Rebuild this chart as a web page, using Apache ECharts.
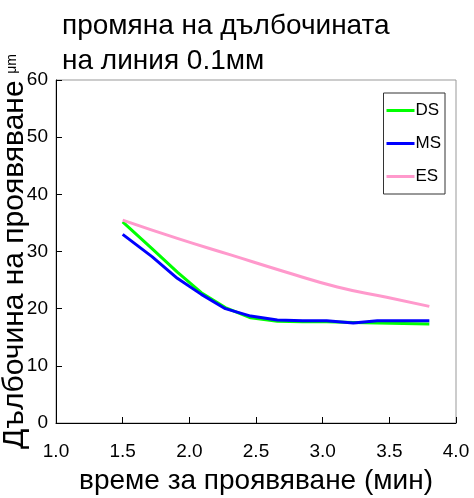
<!DOCTYPE html>
<html><head><meta charset="utf-8">
<script src="https://cdn.jsdelivr.net/npm/echarts@6/dist/echarts.min.js"></script>
<style>html,body{margin:0;padding:0;background:#fff}#c{width:474px;height:498px}</style>
</head><body><div id="c"></div>
<script>
const titleText = 'промяна на дълбочината\nна линия 0.1мм';
const xName = 'време за проявяване (мин)';
const yName = 'Дълбочина на проявяване';
const yUnit = 'μm';
const seriesNames = ['DS', 'MS', 'ES'];
const timesDM = [1.5, 1.72, 1.91, 2.09, 2.27, 2.46, 2.66, 2.85, 3.03, 3.23, 3.41, 3.8];
const dsValues = [35.2, 30.5, 26.4, 22.8, 20.2, 18.4, 17.8, 17.7, 17.7, 17.6, 17.5, 17.3];
const msValues = [33.0, 29.1, 25.3, 22.5, 20.0, 18.7, 18.0, 17.9, 17.9, 17.5, 17.9, 17.9];
const timesES = [1.5, 1.91, 2.31, 2.71, 3.11, 3.48, 3.8];
const esValues = [35.5, 32.3, 29.4, 26.5, 23.8, 22.0, 20.4];
const colors = ['#00ff00', '#0000ff', '#ff99cc'];

const zip = (xs, ys) => xs.map((x, i) => [x, ys[i]]);
const sans = '"Liberation Sans", Arial, sans-serif';

const chart = echarts.init(document.getElementById('c'));
chart.setOption({
  animation: false,
  title: {
    text: titleText, left: 57, top: 4,
    textStyle: { fontFamily: sans, fontSize: 28, fontWeight: 'normal', color: '#000', lineHeight: 35 }
  },
  grid: { left: 56, right: 18, top: 80, bottom: 75, containLabel: false, outerBoundsMode: 'none',
    show: true, borderColor: '#999', borderWidth: 1 },
  legend: {
    orient: 'vertical', right: 29, top: 93,
    padding: [9, 4, 9, 3], itemGap: 16,
    borderColor: '#333', borderWidth: 1, backgroundColor: '#fff',
    itemWidth: 28, itemHeight: 3, icon: 'rect',
    textStyle: { fontFamily: sans, fontSize: 17, color: '#000', padding: [0, 0, 0, -4] },
    data: seriesNames
  },
  xAxis: {
    type: 'value', min: 1, max: 4, interval: 0.5,
    name: xName, nameLocation: 'middle', nameGap: 44, nameMoveOverlap: false,
    nameTextStyle: { fontFamily: sans, fontSize: 28, color: '#000' },
    axisLine: { lineStyle: { color: '#000' } },
    axisTick: { inside: true, length: 6, lineStyle: { color: '#000' } },
    axisLabel: { fontFamily: sans, fontSize: 19, color: '#000', margin: 19, formatter: v => v.toFixed(1) },
    splitLine: { show: false }
  },
  yAxis: {
    type: 'value', min: 0, max: 60, interval: 10,
    name: '{a|' + yName + '}  {b|' + yUnit + '}', nameLocation: 'middle', nameGap: 41, nameRotate: 90,
    nameMoveOverlap: false,
    nameTextStyle: { align: 'center', verticalAlign: 'middle', rich: {
      a: { fontFamily: sans, fontSize: 30, color: '#000' },
      b: { fontFamily: sans, fontSize: 14, color: '#000', padding: [0, 0, 6, 0] }
    } },
    axisLine: { show: true, lineStyle: { color: '#000' } },
    axisTick: { show: true, inside: true, length: 6, lineStyle: { color: '#000' } },
    axisLabel: { fontFamily: sans, fontSize: 19, color: '#000', margin: 8 },
    splitLine: { show: false }
  },
  series: [
    { name: seriesNames[0], type: 'line', data: zip(timesDM, dsValues), showSymbol: false, symbol: 'none', lineStyle: { width: 3, color: colors[0] }, itemStyle: { color: colors[0] } },
    { name: seriesNames[1], type: 'line', data: zip(timesDM, msValues), showSymbol: false, symbol: 'none', lineStyle: { width: 3, color: colors[1] }, itemStyle: { color: colors[1] } },
    { name: seriesNames[2], type: 'line', data: zip(timesES, esValues), smooth: true, showSymbol: false, symbol: 'none', lineStyle: { width: 3, color: colors[2] }, itemStyle: { color: colors[2] } }
  ]
});
</script></body></html>
